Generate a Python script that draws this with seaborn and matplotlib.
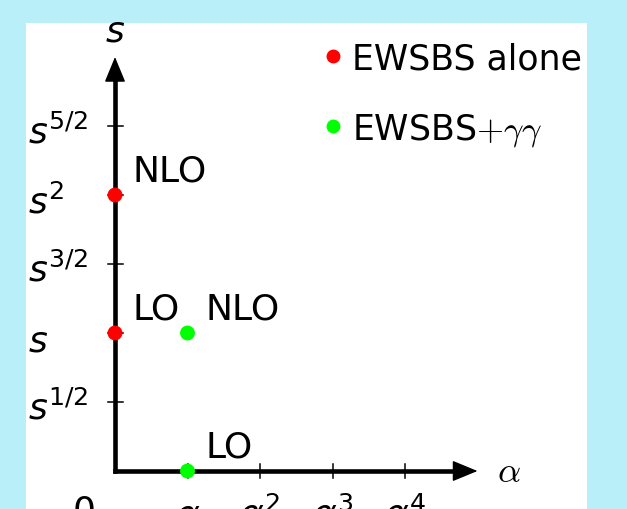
import matplotlib
matplotlib.use("Agg")
import matplotlib.pyplot as plt
from matplotlib.patches import Rectangle, FancyArrowPatch
import seaborn as sns
import pandas as pd

# ---- data ----
series = ["EWSBS alone", "EWSBS alone", "EWSBS$+\\gamma\\gamma$", "EWSBS$+\\gamma\\gamma$"]
alpha_power = [0, 0, 1, 1]
s_power = [1, 2, 0, 1]
point_labels = ["LO", "NLO", "LO", "NLO"]
series_order = ["EWSBS alone", "EWSBS$+\\gamma\\gamma$"]
series_colors = ["#ff0000", "#00ff00"]

x_ticks = [1, 2, 3, 4]
x_tick_labels = ["$\\alpha$", "$\\alpha^2$", "$\\alpha^3$", "$\\alpha^4$"]
y_ticks = [0.5, 1, 1.5, 2, 2.5]
y_tick_labels = ["$s^{1/2}$", "$s$", "$s^{3/2}$", "$s^2$", "$s^{5/2}$"]

df = pd.DataFrame({"series": series, "alpha": alpha_power, "s": s_power, "label": point_labels})

plt.rcParams["font.family"] = ["DejaVu Sans"]
FS = 26
W, H = 627, 510
fig = plt.figure(figsize=(W / 100, H / 100), dpi=100)
fig.patch.set_facecolor("#b9eff8")
fig.add_artist(Rectangle((26 / W, 0), (587 - 26) / W, (H - 24) / H,
                         transform=fig.transFigure, facecolor="white",
                         edgecolor="none", zorder=0))

ax = fig.add_axes([0, 0, 1, 1])
ax.set_facecolor("none")
XPX, YPX, X0, Y0 = 72.5, 138.0, 115, 472
ax.set_xlim((0 - X0) / XPX, (W - X0) / XPX)
ax.set_ylim((Y0 - H) / YPX, Y0 / YPX)
ax.axis("off")

# axes lines with arrowheads
ax.plot([0, 5.0 - 12 / XPX], [0, 0], color="black", lw=3.3, solid_capstyle="projecting", zorder=2)
ax.plot([0, 0], [0, 3.0 - 12 / YPX], color="black", lw=3.3, solid_capstyle="projecting", zorder=2)
for start, end in [((5.0 - 22 / XPX, 0.0), (5.0, 0.0)), ((0.0, 3.0 - 22 / YPX), (0.0, 3.0))]:
    arr = FancyArrowPatch(start, end, arrowstyle="-|>,head_length=0.8,head_width=0.33",
                          mutation_scale=20, linewidth=1.0, color="black",
                          shrinkA=0, shrinkB=0, zorder=2, joinstyle="round")
    ax.add_patch(arr)

# ticks
for xt in x_ticks:
    ax.plot([xt, xt], [-7 / YPX, 7 / YPX], color="black", lw=1.1, zorder=2)
for yt in y_ticks:
    ax.plot([-7.5 / XPX, 7.5 / XPX], [yt, yt], color="black", lw=1.1, zorder=2)

# tick labels
for yt, lab in zip(y_ticks, y_tick_labels):
    ax.text((28 - X0) / XPX, yt - 17 / YPX, lab, fontsize=FS, ha="left", va="baseline")
ax.text((84 - X0) / XPX, (Y0 - 522) / YPX, "0", fontsize=FS, ha="center", va="baseline")
for xt, lab in zip(x_ticks, x_tick_labels):
    ax.text(xt, (Y0 - 526) / YPX, lab, fontsize=FS, ha="center", va="baseline")

# axis labels
ax.text(0, (Y0 - 42) / YPX, "$s$", fontsize=FS, ha="center", va="baseline")
ax.text((497 - X0) / XPX, (Y0 - 482) / YPX, "$\\alpha$", fontsize=FS, ha="left",
        va="baseline", math_fontfamily="cm")

# points
sns.scatterplot(data=df, x="alpha", y="s", hue="series", hue_order=series_order,
                palette=series_colors, s=115, linewidth=0, ax=ax, zorder=3, legend=True)

for _, r in df.iterrows():
    ax.annotate(r["label"], (r["alpha"], r["s"]), xytext=(18, 14),
                textcoords="offset pixels", fontsize=FS, ha="left", va="baseline")

handles, labels = ax.get_legend_handles_labels()
leg = ax.legend(handles, labels, loc="upper left", bbox_to_anchor=(322 / W, 1 - 42 / H),
                bbox_transform=fig.transFigure, frameon=False, fontsize=25,
                handlelength=0.62, handletextpad=0.25, borderpad=0, borderaxespad=0,
                labelspacing=1.04, markerscale=1.0)
for t in leg.get_texts():
    t.set_math_fontfamily("cm")
for h in leg.legend_handles:
    try:
        h.set_markersize(10)
    except Exception:
        pass

fig.savefig("out.png", dpi=100, facecolor=fig.get_facecolor())
